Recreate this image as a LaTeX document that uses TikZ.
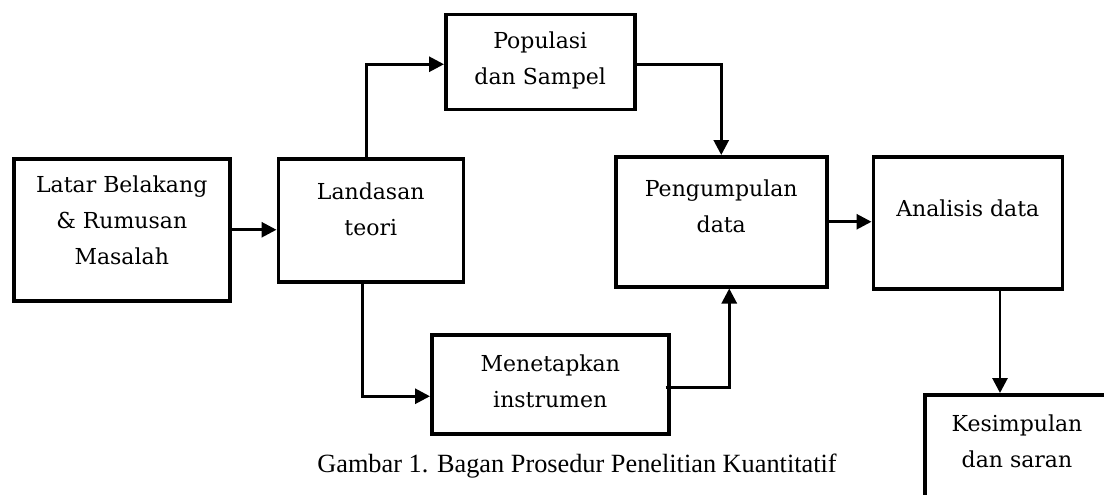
\documentclass[tikz,border=0pt]{standalone}
\usepackage{fontspec}
\setmainfont{Liberation Serif}
\newfontfamily\boxfont{DejaVu Serif}
\usepackage{tikz}
\usetikzlibrary{arrows.meta, positioning, calc}
\tikzset{
    box/.style={
        rectangle,
        draw=black,
        line width=3.5pt,
        inner sep=0pt
    },
    boxtext/.style={
        align=center,
        font=\boxfont\fontsize{22}{36}\selectfont
    },
    flow/.style={
        draw=black,
        line width=2.9pt,
        -{Triangle[length=15pt,width=15pt]}
    },
    caption/.style={
        font=\fontsize{26.3}{30}\selectfont
    }
}
\begin{document}
\begin{tikzpicture}[x=1pt, y=1pt]

\clip (0,0) rectangle (1104,-495);
\fill[white] (0,0) rectangle (1104,-495);

% Boxes
\node[box, minimum width=216pt, minimum height=142pt, anchor=north west,
      label={[boxtext, below=15pt]north:{Latar Belakang\\\& Rumusan\\Masalah}}] (latar) at (12,-157) {};
\node[box, minimum width=185pt, minimum height=123pt, right=45pt of latar.north east, anchor=north west,
      label={[boxtext, below=22pt]north:{Landasan\\teori}}] (landasan) {};
\node[box, minimum width=189pt, minimum height=95pt, anchor=north west,
      label={[boxtext, below=15pt]north:{Populasi\\dan Sampel}}] (populasi) at (444,-13) {};
\node[box, minimum width=211pt, minimum height=130pt, anchor=north west,
      label={[boxtext, below=21pt]north:{Pengumpulan\\data}}] (pengumpulan) at (614,-155) {};
\node[box, minimum width=189pt, minimum height=132pt, right=43pt of pengumpulan.north east, anchor=north west,
      label={[boxtext, below=41pt]north:{Analisis data}}] (analisis) {};
\node[box, minimum width=237pt, minimum height=99pt, anchor=north west,
      label={[boxtext, below=18pt]north:{Menetapkan\\instrumen}}] (menetapkan) at (430,-333) {};

% Kesimpulan runs off the page edge
\node[box, minimum width=250pt, minimum height=140pt, anchor=north west] (kesimpulan) at (923,-393) {};
\node[boxtext, anchor=north] (kesimpulantext) at ([xshift=94pt,yshift=-18pt]kesimpulan.north west) {Kesimpulan\\dan saran};

% Connections
\draw[flow] (latar.east) -- (latar.east -| landasan.west);
\draw[flow] ([xshift=-4pt]landasan.north) |- ([yshift=-2pt]populasi.west);
\draw[flow] ([yshift=-2pt]populasi.east) -| (pengumpulan.north);
\draw[flow] ([xshift=-8pt]landasan.south) |- ([yshift=-12pt]menetapkan.west);
\draw[flow] ([xshift=-5pt,yshift=-3pt]menetapkan.east) -| ([xshift=8pt]pengumpulan.south);
\draw[flow] (pengumpulan.east) -- (pengumpulan.east -| analisis.west);
\draw[flow] ([xshift=77pt]kesimpulan.north west |- analisis.south) -- ([xshift=77pt]kesimpulan.north west);

% Caption
\node[caption, anchor=base] (judul) at (577,-472) {Gambar 1. Bagan Prosedur Penelitian Kuantitatif};

\end{tikzpicture}
\end{document}
